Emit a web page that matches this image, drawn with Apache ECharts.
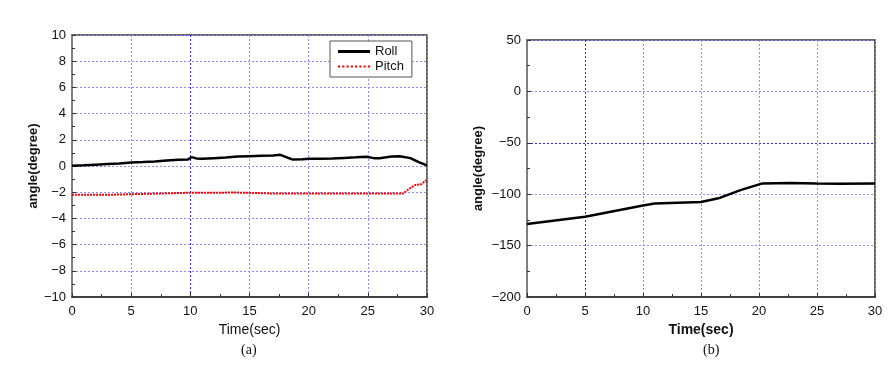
<!DOCTYPE html>
<html><head><meta charset="utf-8">
<script src="https://cdn.jsdelivr.net/npm/echarts@6/dist/echarts.min.js"></script>
<style>html,body{margin:0;padding:0;background:#fff}#c{width:895px;height:369px}</style>
</head><body><div id="c"></div>
<script>
const rollT = [0,1,2,3,4,5,6,7,8,9,9.8,10.1,10.5,11,12,13,14,15,16,17,17.6,18.6,19.5,20,21,22,23,24,24.9,25.5,26,27,27.7,28.6,29.3,30];
const rollV = [0.02,0.05,0.1,0.15,0.2,0.27,0.3,0.35,0.42,0.47,0.5,0.68,0.58,0.55,0.6,0.65,0.72,0.75,0.78,0.8,0.85,0.5,0.52,0.55,0.55,0.58,0.62,0.66,0.7,0.6,0.6,0.72,0.74,0.6,0.3,0.05];
const pitchT = [0,3,3.1,10,14,17,20,25,28,28.4,29,29.5,30];
const pitchV = [-2.2,-2.2,-2.06,-2.04,-2.03,-2.1,-2.1,-2.1,-2.1,-1.8,-1.45,-1.4,-1.05];
const yawT = [0,5,10,11,15,16.5,18.4,20.3,22.7,25,27,30];
const yawV = [-129,-122,-111,-109,-107.5,-104,-96,-89.5,-89,-89.5,-89.8,-89.5];
const leftYTicks = [-10,10,2];
const rightYTicks = [-200,50,50];
const xTicks = [0,30,5];

const pair = (t,v)=>t.map((x,i)=>[x,v[i]]);
const grid = (l,t,w,h)=>({left:l,top:t,width:w,height:h,show:true,borderColor:'#333',borderWidth:1.5,containLabel:false});
const L = '#8c8cff', D = '#2a2aff';
const split = c=>({show:true,lineStyle:{color:c,type:[2,2],width:1}});
const font = 'Liberation Sans, Arial, sans-serif';
const minus = v=>String(v).replace('-','\u2212');
const xAxis = (gi, bold, c)=>({type:'value',gridIndex:gi,min:xTicks[0],max:xTicks[1],interval:xTicks[2],
  name:'Time(sec)',nameLocation:'middle',nameGap:25,
  nameTextStyle:{fontFamily:font,fontSize:14,color:'#111',fontWeight:bold?'bold':'normal'},
  axisLine:{onZero:false,lineStyle:{color:'#333',width:1.5}},axisTick:{inside:true,length:4,lineStyle:{color:'#333'}},
  minorTick:{show:true,splitNumber:2,length:3,lineStyle:{color:'#333'}},
  axisLabel:{fontFamily:font,fontSize:13,color:'#111',margin:8},splitLine:split(c)});
const yAxis = (gi, tk, gap, c)=>({type:'value',gridIndex:gi,min:tk[0],max:tk[1],interval:tk[2],
  name:'angle(degree)',nameLocation:'middle',nameGap:gap,nameRotate:90,
  nameTextStyle:{fontFamily:font,fontSize:13,color:'#111',fontWeight:'bold'},
  axisLine:{onZero:false,lineStyle:{color:'#808080',width:2}},axisTick:{inside:true,length:4,lineStyle:{color:'#333'}},
  minorTick:{show:true,splitNumber:2,length:3,lineStyle:{color:'#333'}},
  axisLabel:{fontFamily:font,fontSize:13,color:'#111',margin:6,formatter:minus},splitLine:split(c)});

const chart = echarts.init(document.getElementById('c'),null,{renderer:'canvas'});
chart.setOption({
  animation:false,
  backgroundColor:'#fff',
  grid:[grid(72,35,355,262),grid(527,40,348,257)],
  xAxis:[xAxis(0,false,[L,L,D,L,L,L,L]),xAxis(1,true,[L,D,L,L,L,L,L])],
  yAxis:[yAxis(0,leftYTicks,31,[L]),yAxis(1,rightYTicks,42,[L,L,L,D,L,L])],
  legend:{orient:'vertical',left:330,top:41,width:88,
    itemWidth:32,itemHeight:10,itemGap:2,padding:[4,8,4,8],
    borderColor:'#555',borderWidth:1,backgroundColor:'#fff',
    textStyle:{fontFamily:font,fontSize:13,color:'#111'},
    data:[{name:'Roll',icon:'path://M0,3.5L32,3.5L32,6.5L0,6.5Z'},
          {name:'Pitch',icon:'path://M0,4L2,4L2,6L0,6ZM4,4L6,4L6,6L4,6ZM8,4L10,4L10,6L8,6ZM12,4L14,4L14,6L12,6ZM16,4L18,4L18,6L16,6ZM20,4L22,4L22,6L20,6ZM24,4L26,4L26,6L24,6ZM28,4L30,4L30,6L28,6Z'}]},
  series:[
    {name:'Roll',type:'line',xAxisIndex:0,yAxisIndex:0,data:pair(rollT,rollV),showSymbol:false,
      lineStyle:{color:'#000',width:2.5},itemStyle:{color:'#000'}},
    {name:'Pitch',type:'line',xAxisIndex:0,yAxisIndex:0,data:pair(pitchT,pitchV),showSymbol:false,
      lineStyle:{color:'#ff0000',width:2,type:[2,1]},itemStyle:{color:'#ff0000'}},
    {name:'Yaw',type:'line',xAxisIndex:1,yAxisIndex:1,data:pair(yawT,yawV),showSymbol:false,
      lineStyle:{color:'#000',width:2.5},itemStyle:{color:'#000'}}
  ],
  graphic:[
    {type:'text',left:241,top:343,style:{text:'(a)',font:'14px "Liberation Serif", serif',fill:'#111'}},
    {type:'text',left:703,top:343,style:{text:'(b)',font:'14px "Liberation Serif", serif',fill:'#111'}}
  ]
});
</script></body></html>
